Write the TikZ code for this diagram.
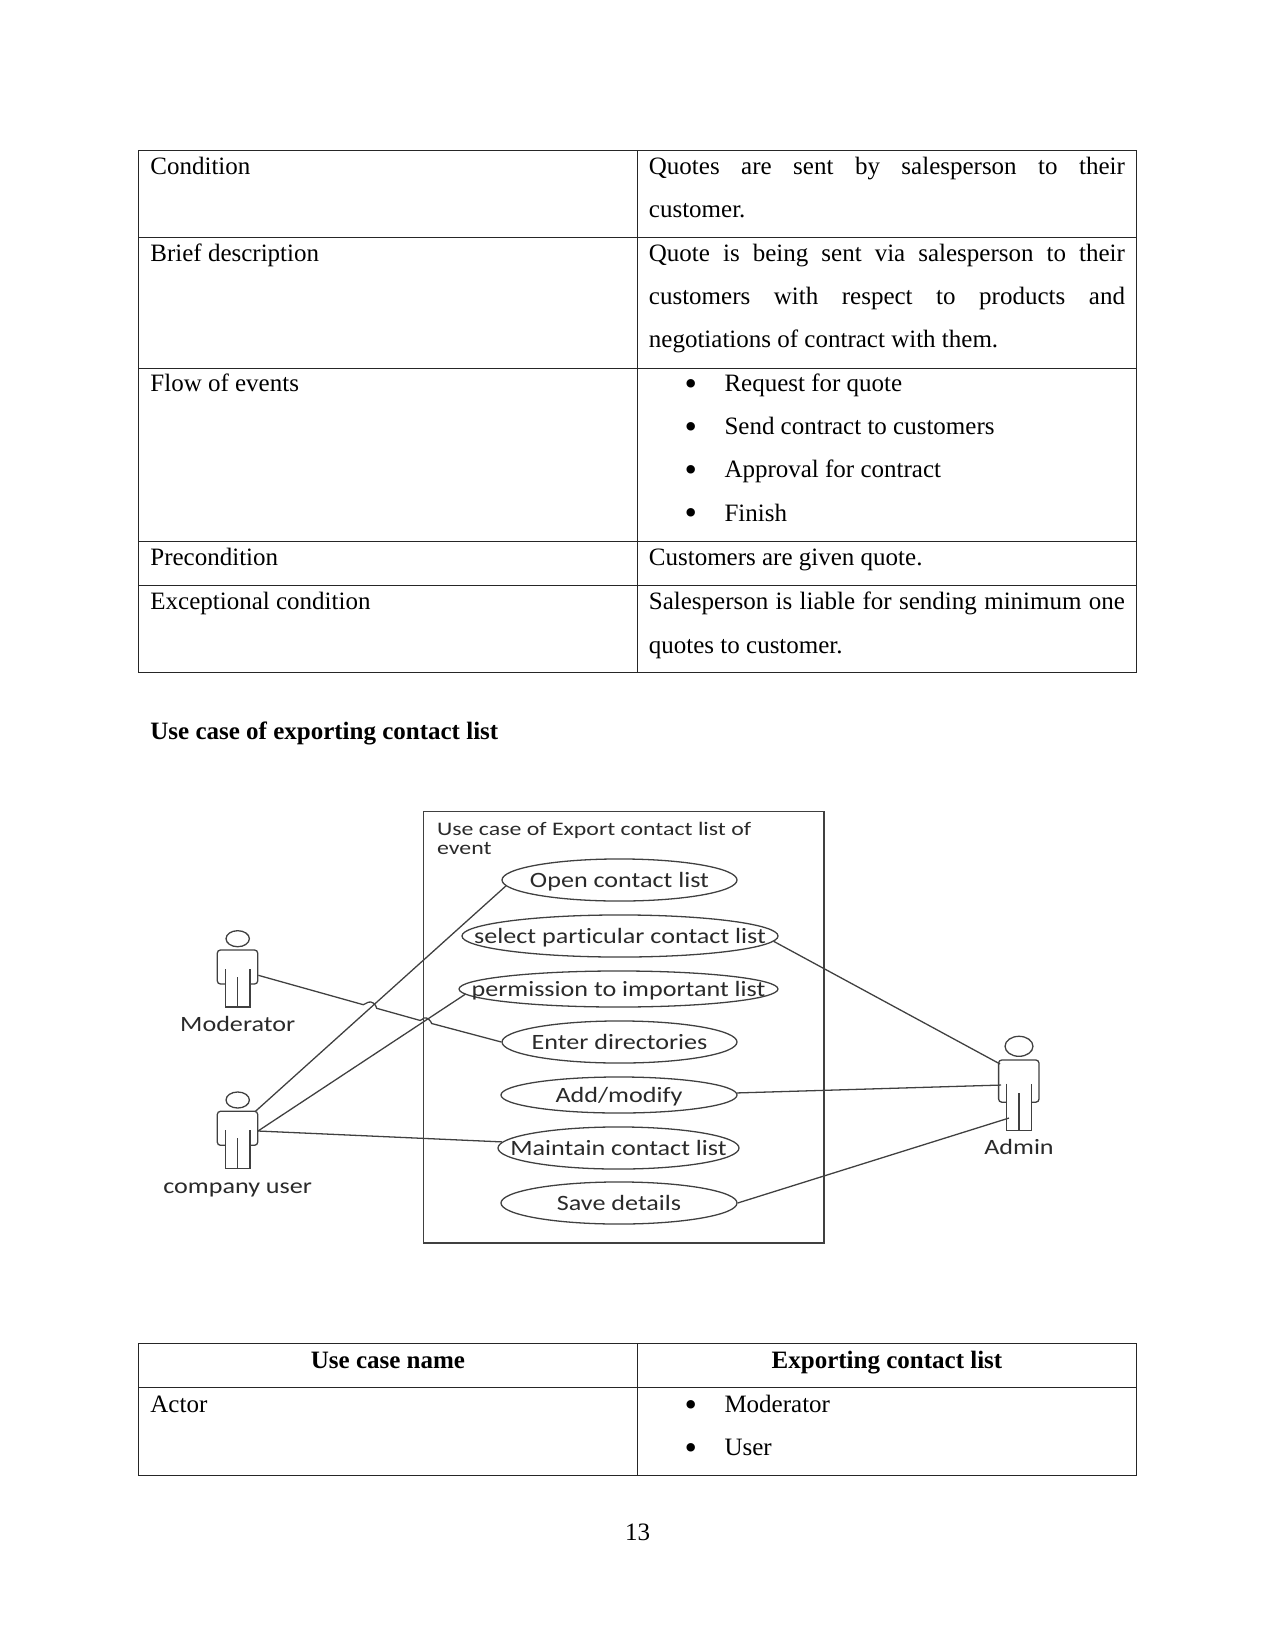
\documentclass[tikz,border=0pt]{standalone}
\usepackage{fontspec}
\usetikzlibrary{shapes.geometric}
\setmainfont{Liberation Serif}
\newfontfamily\umlfont[FakeStretch=1.194,Ligatures=NoCommon]{Carlito}
\newfontfamily\umltitle[FakeStretch=1.243,Ligatures=NoCommon]{Carlito}
% Use case text takes no width, so that the ellipse keeps its given size
\newcommand\uctext[1]{\makebox[0pt]{#1}}
% Large list bullet on a fixed indent
\newcommand\bul{\makebox[19.1pt][l]{\raisebox{-1.9pt}{\fontsize{17}{17}\selectfont •}}}
\definecolor{umlline}{HTML}{404040}
\definecolor{umltext}{HTML}{2A2A2A}
\tikzset{
  rule/.style={draw=black!85,line width=0.42pt},
  cell/.style={anchor=north west,inner sep=0pt,text width=228.5pt,align=justify,
    font=\fontsize{12}{20.8}\selectfont,execute at begin node=\strut},
  plain/.style={anchor=base west,inner sep=0pt,font=\fontsize{12}{14}\selectfont},
  heading/.style={anchor=base,inner sep=0pt,font=\fontsize{12}{14}\selectfont\bfseries},
  usecase/.style={ellipse,draw=umlline,line width=0.62pt,inner sep=0pt,text=umltext,
    font=\umlfont\fontsize{10.5}{12}\selectfont,text height=9.2pt,text depth=2pt},
  actorlabel/.style={anchor=base,inner sep=0pt,text=umltext,font=\umlfont\fontsize{10.5}{12}\selectfont},
  titletext/.style={anchor=base west,inner sep=0pt,text=umltext,font=\umltitle\fontsize{9.2}{10}\selectfont},
  assoc/.style={draw=umlline,line width=0.62pt},
  actorhead/.style={ellipse,draw=umlline,line width=0.62pt,inner sep=0pt},
  pics/actorbody/.style={code={
    \draw[assoc,rounded corners=1.5pt] (-12.4,34) -- (-20.4,34) -- (-20.4,0) -- (20,0) -- (20,34) -- (12.3,34);
    \draw[assoc] (-12.4,19) -- (-12.4,57) -- (12.3,57) -- (12.3,19);
    \draw[assoc] (0,27) -- (0,57);
    \coordinate (-arm) at (20.6,25.3);
    \coordinate (-hand) at (20.3,19.7);
    \coordinate (-shoulder) at (17.3,0.4);
    \coordinate (-leftshoulder) at (-19,3.2);
    \coordinate (-leftarm) at (-18,20.2);
    \coordinate (-leftleg) at (-10,46.8);
  }}
}
\begin{document}
\begin{tikzpicture}[x=0.48pt,y=-0.48pt]
\useasboundingbox (0,0) rectangle (1275,1651);

% upper table
\foreach \ya/\yb in {150/237,237/368,368/541,541/585,585/672}{
  \draw[rule] (138,\ya) rectangle (637.5,\yb);
  \draw[rule] (637.5,\ya) rectangle (1136.4,\yb);
}
\node[plain] (t1) at (150,174.6) {Condition};
\node[cell] (t1r) at (648.5,143.7) {Quotes are sent by salesperson to their\linebreak customer.};
\node[plain] (t2) at (150,261.9) {Brief description};
\node[cell] (t2r) at (648.5,230.4) {Quote is being sent via salesperson to their\linebreak customers with respect to products and\linebreak negotiations of contract with them.};
\node[plain] (t3) at (150,391.7) {Flow of events};
\node[plain] (b1) at (684.3,391.7) {\bul Request for quote};
\node[plain] (b2) at (684.3,434.2) {\bul Send contract to customers};
\node[plain] (b3) at (684.3,477.5) {\bul Approval for contract};
\node[plain] (b4) at (684.3,521) {\bul Finish};
\node[plain] (t4) at (150,565.2) {Precondition};
\node[plain] (t4r) at (648.5,565.2) {Customers are given quote.};
\node[plain] (t5) at (150,609.7) {Exceptional condition};
\node[cell] (t5r) at (648.5,579.2) {Salesperson is liable for sending minimum one\linebreak quotes to customer.};

% section heading
\node[plain,font=\fontsize{12}{14}\selectfont\bfseries] (head) at (150,739) {Use case of exporting contact list};

% system boundary
\node[draw=umlline,line width=0.75pt,minimum width=192.24pt,minimum height=206.9pt,inner sep=0pt] (system) at (623.75,1027.2) {};
\node[titletext] (title1) at (436.7,835) {Use case of Export contact list of};
\node[titletext] (title2) at (436.7,854.3) {event};

% use cases
\node[usecase,minimum width=112.8pt,minimum height=20.2pt] (open) at (619.5,880) {\uctext{Open contact list}};
\node[usecase,minimum width=151.7pt,minimum height=20.2pt] (select) at (620,936) {\uctext{select particular contact list}};
\node[usecase,minimum width=153.1pt,minimum height=17.3pt] (perm) at (618.5,989) {\uctext{permission to important list}};
\node[usecase,minimum width=112.8pt,minimum height=20.2pt] (enter) at (619.5,1042) {\uctext{Enter directories}};
\node[usecase,minimum width=113.3pt,minimum height=17.3pt] (add) at (619,1095) {\uctext{Add/modify}};
\node[usecase,minimum width=115.7pt,minimum height=20.2pt] (maintain) at (618.5,1148) {\uctext{Maintain contact list}};
\node[usecase,minimum width=113.3pt,minimum height=20.2pt] (save) at (619,1203) {\uctext{Save details}};

% actors
\node[actorhead,minimum width=11.2pt,minimum height=7.7pt] (modhead) at (237.7,938.7) {};
\pic (mod) at (237.7,950) {actorbody};
\node[actorlabel] (modlabel) at (237.7,1031.5) {Moderator};
\node[actorhead,minimum width=11.2pt,minimum height=7.7pt] (userhead) at (237.7,1100) {};
\pic (user) at (237.7,1111.3) {actorbody};
\node[actorlabel] (userlabel) at (237.7,1193.4) {company user};
\node[actorhead,minimum width=13.4pt,minimum height=9.6pt] (adminhead) at (1019,1046.3) {};
\pic[yscale=1.24] (admin) at (1019,1060) {actorbody};
\node[actorlabel] (adminlabel) at (1019,1154.8) {Admin};

% associations; the line from Moderator hops over the two company user lines
\coordinate (hopa) at (363.3,1004.7);
\coordinate (hopb) at (376.7,1008.3);
\coordinate (hopc) at (420,1020.4);
\coordinate (hopd) at (431.7,1023.5);
\draw[assoc] (mod-arm) -- (hopa) .. controls +(3,-1) and +(-3,1) .. ++(5,-2.5) .. controls +(3,-1) and +(-1,-5) .. (hopb)
  -- (hopc) .. controls +(2,0) and +(-2,1) .. ++(4,-2.5) .. controls +(3,-1) and +(-1,-3) .. (hopd) -- (enter.west);
\draw[assoc] (user-shoulder) -- (open.183.7);
\draw[assoc] (user-hand) -- (perm.182.6);
\draw[assoc] (user-hand) -- (maintain.177.4);
\draw[assoc] (select.-2.5) -- (admin-leftshoulder);
\draw[assoc] (add.1.1) -- (admin-leftarm);
\draw[assoc] (save.east) -- (admin-leftleg);

% lower table
\foreach \ya/\yb in {1343.4/1387.6,1387.6/1475}{
  \draw[rule] (138,\ya) rectangle (637.5,\yb);
  \draw[rule] (637.5,\ya) rectangle (1136.4,\yb);
}
\node[heading] (n1) at (388,1368.8) {Use case name};
\node[heading] (n2) at (887,1368.8) {Exporting contact list};
\node[plain] (n3) at (150,1412.2) {Actor};
\node[plain] (b5) at (684.3,1412.2) {\bul Moderator};
\node[plain] (b6) at (684.3,1455.2) {\bul User};

% page number
\node[anchor=base,inner sep=0pt,font=\fontsize{12}{14}\selectfont] (page) at (637.5,1540.2) {13};
\end{tikzpicture}
\end{document}
